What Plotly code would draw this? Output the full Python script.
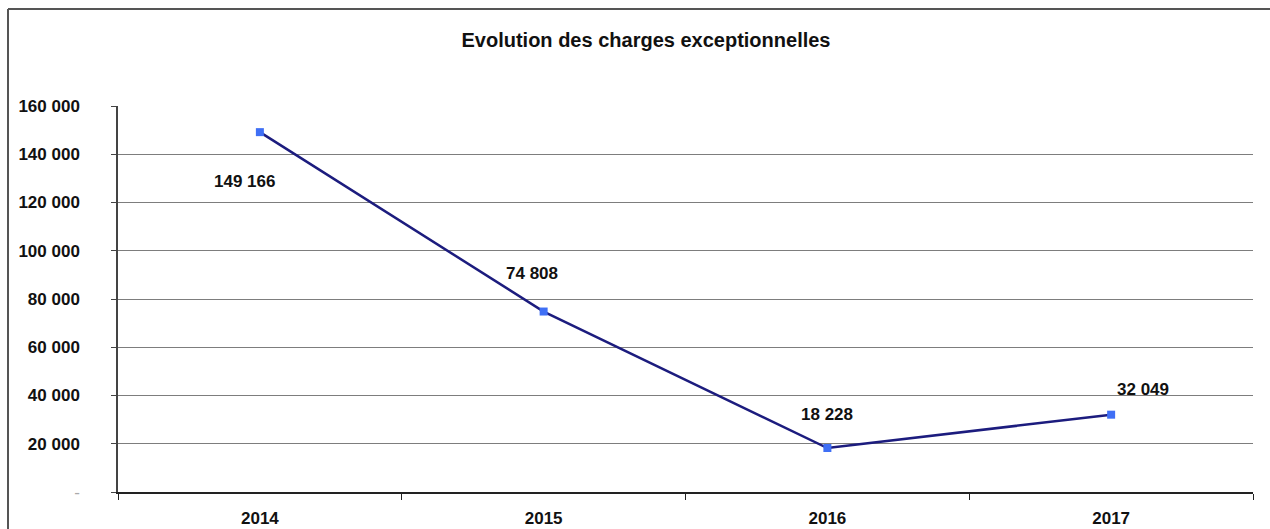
import plotly.graph_objects as go

years = ["2014", "2015", "2016", "2017"]
values = [149166, 74808, 18228, 32049]
y_ticks = [0, 20000, 40000, 60000, 80000, 100000, 120000, 140000, 160000]
y_tick_labels = ["-", "20 000", "40 000", "60 000", "80 000", "100 000", "120 000", "140 000", "160 000"]
label_shift_x = [-15, -12, 0, 32]
label_shift_y = [-49, 38, 34, 25]

def fmt(v):
    return f"{v:,}".replace(",", " ")

W, H = 1270, 529
L, R, T, B = 118, 17, 106, 37
pw, ph = W - L - R, H - T - B

fig = go.Figure()
fig.add_trace(go.Scatter(
    x=years, y=values, mode="lines+markers",
    line=dict(color="#1c1c7e", width=2.5),
    marker=dict(symbol="square", size=8, color="#3f6ff5"),
    showlegend=False, hoverinfo="skip",
))

lab_font = dict(family="Liberation Sans, Arial", size=17, color="#111")
for i, (v, dx, dy) in enumerate(zip(values, label_shift_x, label_shift_y)):
    fig.add_annotation(x=i, y=v, text=f"<b>{fmt(v)}</b>", showarrow=False,
                       xshift=dx, yshift=dy, font=lab_font)

font = dict(family="Liberation Sans, Arial", size=17, color="#111")
y_text = [f"<span style='color:#aaa'>{t}</span>" if t == "-" else f"<b>{t}</b>" for t in y_tick_labels]

fig.update_layout(
    width=W, height=H,
    margin=dict(l=L, r=R, t=T, b=B, autoexpand=False),
    paper_bgcolor="white", plot_bgcolor="white",
    title=dict(text="<b>Evolution des charges exceptionnelles</b>",
               x=646 / W, xref="container", xanchor="center",
               y=1 - 40 / H, yref="container", yanchor="middle",
               font=dict(family="Liberation Sans, Arial", size=20, color="#111"),
               automargin=False),
    xaxis=dict(type="category", showgrid=False, showline=True, linecolor="#222", linewidth=1.5,
               ticks="outside", tickson="boundaries", ticklen=6, tickcolor="#222",
               tickfont=font, range=[-0.5, 3.5], fixedrange=True,
               tickvals=years, ticktext=[f"<b>{y}</b>" for y in years],
               ticklabelstandoff=10, automargin=False),
    yaxis=dict(range=[0, 160000], tickvals=y_ticks, ticktext=y_text,
               showgrid=True, gridcolor="#7d7d7d", gridwidth=1,
               showline=True, linecolor="#444", linewidth=1.5,
               ticks="outside", ticklen=5, tickcolor="#444",
               tickfont=font, zeroline=False, fixedrange=True,
               ticklabelstandoff=28, automargin=False),
)

# outer chart frame (top and left edges visible in the crop)
x0 = (8 - L) / pw
ytop = 1 + (T - 9) / ph
fig.add_shape(type="line", xref="paper", yref="paper", x0=x0, x1=(W - L) / pw + 0.01,
              y0=ytop, y1=ytop, line=dict(color="#555", width=2))
fig.add_shape(type="line", xref="paper", yref="paper", x0=x0, x1=x0,
              y0=ytop, y1=-(B + 5) / ph, line=dict(color="#555", width=2))

fig.write_html("out.html", config={"displayModeBar": False},
               post_script="document.body.style.margin='0';")
